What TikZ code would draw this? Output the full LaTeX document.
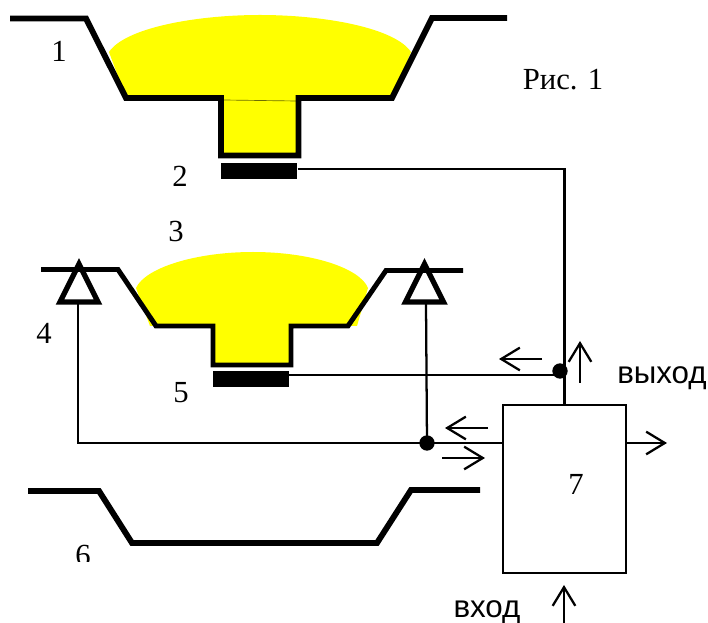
\documentclass[tikz,border=0pt]{standalone}
\usepackage{fontspec}
\setmainfont{Liberation Serif}
\newfontfamily\arialf{Liberation Sans}
\usetikzlibrary{arrows.meta}
\definecolor{fillyellow}{RGB}{255,255,0}
\definecolor{seam}{RGB}{110,110,0}
\tikzset{
  x=0.75pt,y=-0.75pt,
  vessel/.style={line width=4.4pt,miter limit=10,line join=miter},
  vesselthin/.style={line width=3.7pt,line join=miter},
  wire/.style={line width=1.7pt},
  flow/.style={line width=1.7pt,-{Straight Barb[length=14pt,width=17pt,line width=1.7pt]}},
  dotn/.style={circle,fill=black,minimum size=11.5pt,inner sep=0pt},
  sensor/.style={fill=black,draw=none,inner sep=0pt},
  valve/.style={line width=4pt,line join=miter,miter limit=10,fill=none},
  num/.style={font=\fontsize{23}{23}\selectfont,anchor=base,inner sep=0pt},
  cyr/.style={font=\arialf\fontsize{23.5}{23.5}\selectfont,anchor=base,inner sep=0pt},
  blockbox/.style={draw,line width=1.9pt,inner sep=0pt}
}
\begin{document}
\begin{tikzpicture}
\useasboundingbox (0,0) rectangle (708,623);
% yellow liquids
\fill[fillyellow] (109,52) .. controls (125,28) and (195,15) .. (260,15) .. controls (325,15) and (395,28) .. (411,52) -- (392,98) -- (298,98) -- (298,155) -- (221,155) -- (221,98) -- (126,98) -- cycle;
\fill[fillyellow] (136,288) .. controls (145,268) and (195,252) .. (253,252) .. controls (311,252) and (360,268) .. (368,288) -- (357,326) -- (291,326) -- (291,365) -- (213,365) -- (213,326) -- (150,326) -- cycle;
\draw[seam,line width=0.5pt] (224,100) -- (296,101);
% vessels
\draw[vessel] (10,18.5) -- (86,18.5) -- (126,98) -- (221,98) -- (221,155.5) -- (298.5,155.5) -- (298.5,98) -- (392,98) -- (432,18) -- (507,18);
\draw[vesselthin] (41,269.5) -- (118,269.5) -- (156,326) -- (213,326) -- (213,365) -- (291,365) -- (291,326) -- (348,326) -- (386,270.5) -- (463,270.5);
\draw[vessel] (28,491) -- (99,491) -- (132,543) -- (377,543) -- (411,490) -- (480,490);
% nodes
\node[sensor,minimum width=57.5pt,minimum height=12pt] (s2) at (259,171.3) {};
\node[sensor,minimum width=57pt,minimum height=12pt] (s5) at (251,379) {};
\node[blockbox,minimum width=92.25pt,minimum height=126pt] (b7) at (564.5,489) {};
\node[dotn] (d1) at (560,371) {};
\node[dotn] (d2) at (427,443) {};
\coordinate (vl) at (78,303);
\coordinate (vr) at (426,303);
% valves
\draw[valve] (79,264) -- (98,302) -- (60,302) -- cycle;
\draw[valve] (424.5,264) -- (443.5,302) -- (405.5,302) -- cycle;
% wires
\draw[wire] (s2.east |- 0,169) -- (564.5,169) -- (b7.north -| 564.5,0);
\draw[wire] (s5.east |- 0,375) -- (d1.center |- 0,375);
\draw[wire] (vl) -- (78,443) -- (b7.west |- 0,443);
\draw[wire] (vr) -- (d2.center);
% signal arrows
\coordinate (a1s) at (542,359); \coordinate (a1e) at (499,359);
\coordinate (a2s) at (580,383); \coordinate (a2e) at (580,341);
\coordinate (a3s) at (488,428); \coordinate (a3e) at (445,428);
\coordinate (a4s) at (442,458); \coordinate (a4e) at (485,458);
\coordinate (a5s) at (626,443); \coordinate (a5e) at (667,443);
\coordinate (a6s) at (564,623); \coordinate (a6e) at (564,585);
\draw[flow] (a1s) -- (a1e);
\draw[flow] (a2s) -- (a2e);
\draw[flow] (a3s) -- (a3e);
\draw[flow] (a4s) -- (a4e);
\draw[flow] (a5s) -- (a5e);
\draw[flow] (a6s) -- (a6e);
% labels
\node[num] (l1) at (59,62) {1};
\node[num] (l2) at (180,187) {2};
\node[num] (l3) at (176,242) {3};
\node[num] (l4) at (44,344) {4};
\node[num] (l5) at (181,403) {5};
\begin{scope}
\clip (60,530) rectangle (110,562);
\node[num] (l6) at (83,566) {6};
\end{scope}
\node[num] (l7) at (576,495) {7};
\node[num] (title) at (563,90) {Рис. 1};
\node[cyr] (out) at (662,384) {выход};
\node[cyr] (in) at (487,618) {вход};
\end{tikzpicture}
\end{document}
